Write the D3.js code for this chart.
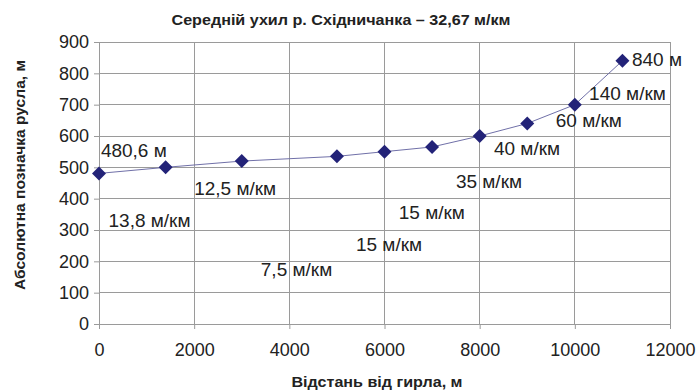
<!DOCTYPE html>
<html><head><meta charset="utf-8">
<script src="https://cdn.jsdelivr.net/npm/d3@7"></script>
<style>body{margin:0;background:#fff}svg{display:block}</style>
</head><body><svg id="c" width="700" height="392"></svg>
<script>
const distances = [0, 1400, 3000, 5000, 6000, 7000, 8000, 9000, 10000, 11000];
const elevations = [480.6, 500, 520, 535, 550, 565, 600, 640, 700, 840];
const xTicks = [0, 2000, 4000, 6000, 8000, 10000, 12000];
const yTicks = [0, 100, 200, 300, 400, 500, 600, 700, 800, 900];
const annotTexts = ["480,6 м", "13,8 м/км", "12,5 м/км", "7,5 м/км", "15 м/км", "15 м/км", "35 м/км", "40 м/км", "60 м/км", "140 м/км", "840 м"];
const annotX = [40, 200, 2000, 3400, 5400, 6300, 7500, 8300, 9600, 10300, 11200];
const annotY = [550, 325, 428, 170, 250, 350, 450, 555, 645, 730, 840];
const title = "Середній ухил р. Східничанка – 32,67 м/км";
const xTitle = "Відстань від гирла, м";
const yTitle = "Абсолютна позначка русла, м";

const svg = d3.select("#c");
const x = d3.scaleLinear().domain([0, 12000]).range([99, 670]);
const y = d3.scaleLinear().domain([0, 900]).range([324, 42]);
const gridColor = "#9a9a9a";
const font = "Arial, 'Liberation Sans', sans-serif";

// grid
svg.append("g").selectAll("line").data(yTicks).join("line")
  .attr("x1", x(0)).attr("x2", x(12000)).attr("y1", d => y(d)).attr("y2", d => y(d))
  .attr("stroke", gridColor).attr("stroke-width", 1).attr("shape-rendering", "crispEdges");
svg.append("g").selectAll("line").data(xTicks).join("line")
  .attr("y1", y(0)).attr("y2", y(900)).attr("x1", d => x(d)).attr("x2", d => x(d))
  .attr("stroke", gridColor).attr("stroke-width", 1).attr("shape-rendering", "crispEdges");

// axes
const xAxis = d3.axisBottom(x).tickValues(xTicks).tickSize(5).tickPadding(14).tickFormat(d3.format("d"));
const yAxis = d3.axisLeft(y).tickValues(yTicks).tickSize(5).tickPadding(5).tickFormat(d3.format("d"));
const gx = svg.append("g").attr("transform", `translate(0,${y(0)})`).call(xAxis);
const gy = svg.append("g").attr("transform", `translate(${x(0)},0)`).call(yAxis);
[gx, gy].forEach(g => {
  g.select(".domain").attr("stroke", gridColor);
  g.selectAll(".tick line").attr("stroke", gridColor);
  g.selectAll("text").attr("fill", "#222").style("font-family", font).style("font-size", "18px");
});

// line
svg.append("path").datum(distances.map((d, i) => [d, elevations[i]]))
  .attr("fill", "none").attr("stroke", "#7070a8").attr("stroke-width", 1)
  .attr("d", d3.line().x(d => x(d[0])).y(d => y(d[1])));

// markers
svg.append("g").selectAll("path").data(distances).join("path")
  .attr("transform", (d, i) => `translate(${x(d)},${y(elevations[i])})`)
  .attr("d", "M0,-7L7,0L0,7L-7,0Z").attr("fill", "#232378");

// annotations
svg.append("g").selectAll("text").data(annotTexts).join("text")
  .attr("x", (d, i) => x(annotX[i])).attr("y", (d, i) => y(annotY[i]))
  .attr("dominant-baseline", "middle")
  .style("font-family", font).style("font-size", "19px").attr("fill", "#222")
  .text(d => d);

// titles
svg.append("text").attr("x", 341).attr("y", 25).attr("text-anchor", "middle")
  .style("font-family", font).style("font-size", "14px").style("font-weight", "bold").attr("fill", "#222")
  .attr("textLength", 339).attr("lengthAdjust", "spacingAndGlyphs").text(title);
svg.append("text").attr("x", 377).attr("y", 387).attr("text-anchor", "middle")
  .style("font-family", font).style("font-size", "15px").style("font-weight", "bold").attr("fill", "#222")
  .attr("textLength", 171).attr("lengthAdjust", "spacingAndGlyphs").text(xTitle);
svg.append("text").attr("transform", "translate(25,175) rotate(-90)").attr("text-anchor", "middle")
  .style("font-family", font).style("font-size", "15px").style("font-weight", "bold").attr("fill", "#222")
  .attr("textLength", 230).attr("lengthAdjust", "spacingAndGlyphs").text(yTitle);
</script></body></html>
